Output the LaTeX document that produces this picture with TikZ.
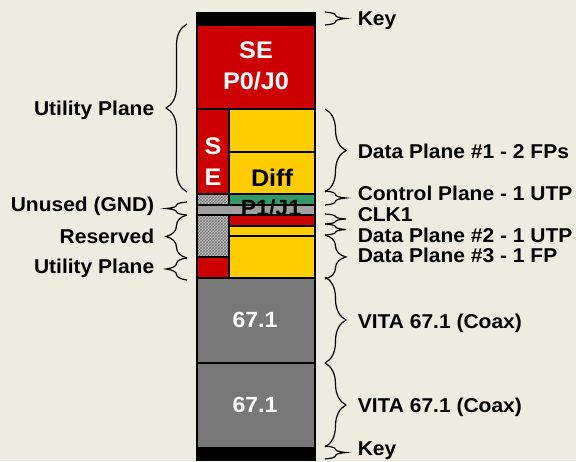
\documentclass[tikz,border=0pt]{standalone}
\usepackage{fontspec}
\setmainfont{Liberation Sans}[FakeStretch=1.05]
\usetikzlibrary{decorations.pathreplacing,patterns}
\definecolor{vpxbg}{HTML}{EEECE1}
\definecolor{vpxred}{HTML}{CC0000}
\definecolor{vpxyellow}{HTML}{FFCC00}
\definecolor{vpxgreen}{HTML}{339966}
\definecolor{vpxgray}{HTML}{A0A0A0}
\definecolor{vpxcoax}{HTML}{787878}

\begin{document}
\begin{tikzpicture}[x=1pt, y=-1pt, line width=1.5pt,
    slot/.style={draw=black, line width=1.5pt},
    hatch/.style={slot, preaction={fill=black!22}, pattern=crosshatch, pattern color=black!55},
    brc/.style={decorate, decoration={brace, amplitude=21pt}, line width=1.2pt},
    lbl/.style={font=\fontsize{20}{22}\selectfont\bfseries, inner sep=0pt},
    pin/.style={font=\fontsize{24}{31}\selectfont\bfseries, align=center, inner sep=0pt}]
    \useasboundingbox (0,0) rectangle (576,461);
    \fill[vpxbg] (0,0) rectangle (576,461);

    % connector column
    \draw[slot, fill=black] (197,13) rectangle (315,25);
    \draw[slot, fill=vpxred] (197,25) rectangle (315,109);
    \draw[slot, fill=vpxred] (197,109) rectangle (229,194);
    \draw[slot, fill=vpxyellow] (229,109) rectangle (315,152);
    \draw[slot, fill=vpxyellow] (229,152) rectangle (315,194);
    \draw[hatch] (197,194) rectangle (229,205);
    \draw[slot, fill=vpxgreen] (229,194) rectangle (315,205);
    \draw[slot, fill=vpxgray] (197,205) rectangle (315,215);
    \draw[hatch] (197,215) rectangle (229,257);
    \draw[slot, fill=vpxred] (229,215) rectangle (315,226);
    \draw[slot, fill=vpxyellow] (229,226) rectangle (315,236);
    \draw[slot, fill=vpxyellow] (229,236) rectangle (315,278);
    \draw[slot, fill=vpxred] (197,257) rectangle (229,278);
    \draw[slot, fill=vpxcoax] (197,278) rectangle (315,363);
    \draw[slot, fill=vpxcoax] (197,363) rectangle (315,448);
    \draw[slot, fill=black] (197,448) rectangle (315,460);

    % texts in the column
    \node[pin, text=white] (sepzero) at (256,66) {SE\\P0/J0};
    \node[pin, text=white] (seleft) at (213,162) {S\\E};
    \node[pin] (diff) at (272,178) {Diff};
    \node[pin, font=\fontsize{22}{26}\selectfont\bfseries] (pone) at (271,208) {P1/J1};
    \node[pin, text=white, font=\fontsize{22}{26}\selectfont\bfseries] (coaxone) at (255,320) {67.1};
    \node[pin, text=white, font=\fontsize{22}{26}\selectfont\bfseries] (coaxtwo) at (255,405) {67.1};

    % right side
    \draw[brc] (325,12) -- (325,25);
    \draw[brc] (325,109) -- (325,192);
    \draw[brc] (325,191) -- (325,205);
    \draw[brc] (325,214) -- (325,224);
    \draw[brc] (325,224) -- (325,235);
    \draw[brc] (325,235) -- (325,279);
    \draw[brc] (325,277) -- (325,363);
    \draw[brc] (325,363) -- (325,447);
    \draw[brc] (325,446) -- (325,459);
    \node[lbl, anchor=base west] (keytop) at (357,25) {Key};
    \node[lbl, anchor=base west] (dpone) at (357,158) {Data Plane \#1 - 2 FPs};
    \node[lbl, anchor=base west] (ctrl) at (357,200) {Control Plane - 1 UTP};
    \node[lbl, anchor=base west] (clk) at (357,221) {CLK1};
    \node[lbl, anchor=base west] (dptwo) at (357,242) {Data Plane \#2 - 1 UTP};
    \node[lbl, anchor=base west] (dpthree) at (357,262) {Data Plane \#3 - 1 FP};
    \node[lbl, anchor=base west] (vitaone) at (357,328) {VITA 67.1 (Coax)};
    \node[lbl, anchor=base west] (vitatwo) at (357,412) {VITA 67.1 (Coax)};
    \node[lbl, anchor=base west] (keybot) at (357,455) {Key};

    % left side
    \draw[brc] (187,192) -- (187,24);
    \draw[brc] (187,215) -- (187,202);
    \draw[brc] (187,258) -- (187,215);
    \draw[brc] (187,280) -- (187,258);
    \node[lbl, anchor=base east] (utilone) at (155,115) {Utility Plane};
    \node[lbl, anchor=base east] (unused) at (155,211) {Unused (GND)};
    \node[lbl, anchor=base east] (resv) at (155,243) {Reserved};
    \node[lbl, anchor=base east] (utiltwo) at (155,273) {Utility Plane};
  \end{tikzpicture}
\end{document}
